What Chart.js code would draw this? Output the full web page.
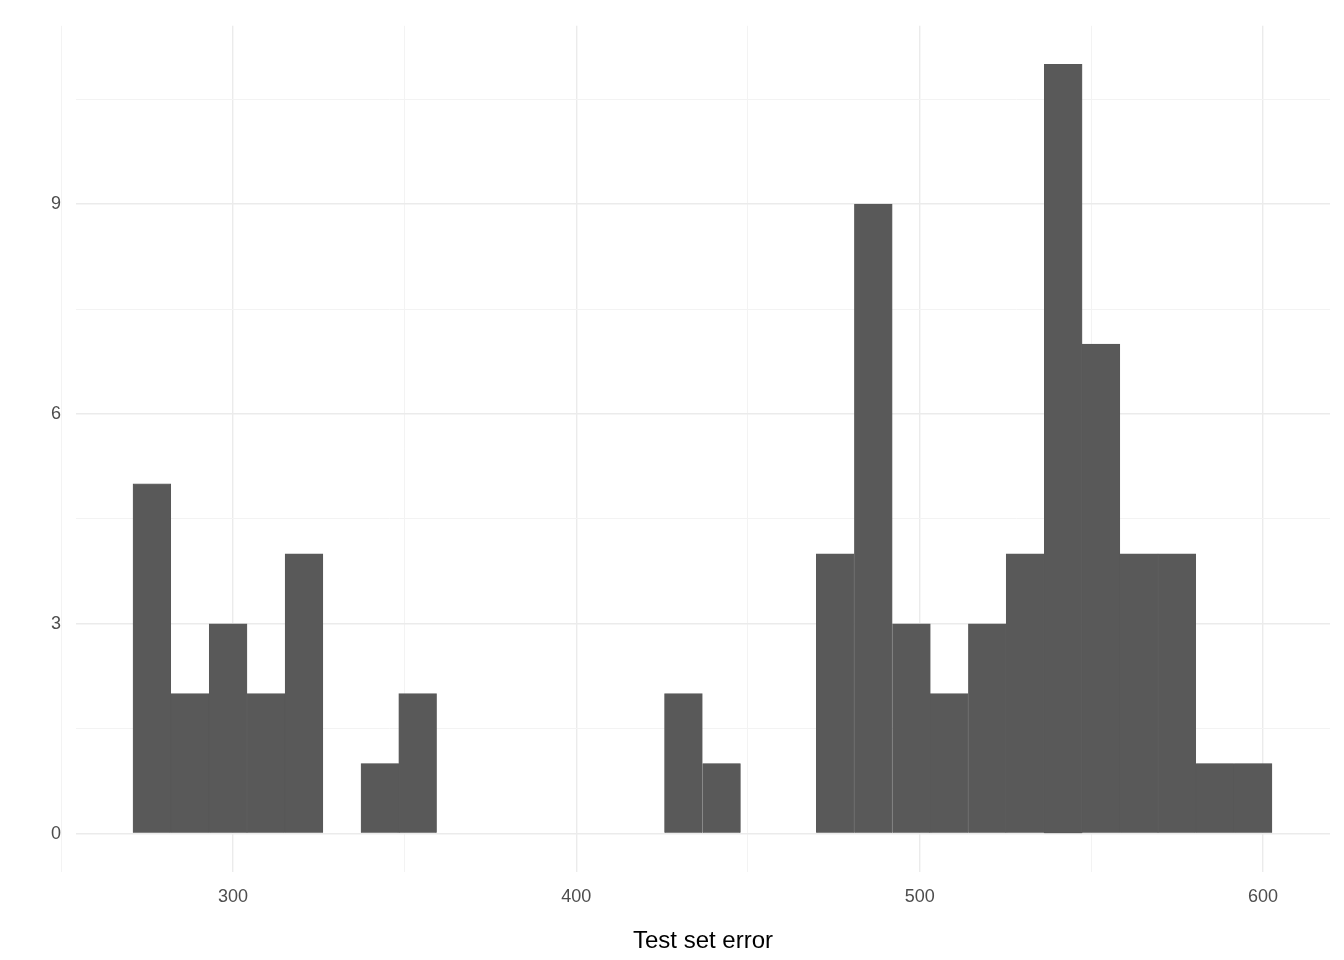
<!DOCTYPE html>
<html>
<head>
<meta charset="utf-8">
<script src="https://cdn.jsdelivr.net/npm/chart.js@4"></script>
<style>
  html, body { margin: 0; padding: 0; background: #fff; }
  #wrap { width: 1344px; height: 960px; }
</style>
</head>
<body>
<div id="wrap"><canvas id="hist"></canvas></div>
<script>
// histogram bins (centres) and counts, 30 bins
const binCenters = [276.4, 287.5, 298.6, 309.6, 320.7, 331.7, 342.8, 353.8, 364.9, 375.9,
                    387.0, 398.1, 409.1, 420.2, 431.2, 442.3, 453.3, 464.4, 475.4, 486.5,
                    497.6, 508.6, 519.7, 530.7, 541.8, 552.8, 563.9, 574.9, 586.0, 597.1];
const counts = [5, 2, 3, 2, 4, 0, 1, 2, 0, 0,
                0, 0, 0, 0, 2, 1, 0, 0, 4, 9,
                3, 2, 3, 4, 11, 7, 4, 4, 1, 1];
const xLabels = [300, 400, 500, 600];
const yLabels = [0, 3, 6, 9];

const ctx = document.getElementById("hist").getContext("2d");
new Chart(ctx, {
  type: 'bar',
  data: {
    datasets: [{
      data: binCenters.map((x, i) => ({ x: x, y: counts[i] === 0 ? null : counts[i] })),
      backgroundColor: "#595959",
      borderColor: "#595959",
      borderWidth: 0.6,
      barPercentage: 1,
      categoryPercentage: 1
    }]
  },
  options: {
    responsive: true,
    maintainAspectRatio: false,
    animation: false,
    layout: { padding: { top: 15, right: 14, left: 0, bottom: 0 } },
    plugins: { legend: { display: false }, tooltip: { enabled: false } },
    scales: {
      x: {
        type: 'linear',
        offset: false,
        min: 254.3, max: 619.5,
        afterFit: s => { s.height = 88; },
        border: { display: false },
        grid: {
          offset: false,
          drawTicks: false,
          color: c => (c.tick && xLabels.includes(c.tick.value)) ? "#EBEBEB" : "#F3F3F3",
          lineWidth: c => (c.tick && xLabels.includes(c.tick.value)) ? 1.4 : 1
        },
        afterBuildTicks: s => { s.ticks = [250, 300, 350, 400, 450, 500, 550, 600].map(v => ({ value: v })); },
        ticks: {
          padding: 14,
          color: "#4D4D4D",
          font: { family: "Arial, 'Liberation Sans'", size: 18 },
          callback: v => xLabels.includes(v) ? String(v) : ""
        },
        title: {
          display: true, text: "Test set error", color: "#000",
          font: { family: "Arial, 'Liberation Sans'", size: 24 },
          padding: { top: 2 }
        }
      },
      y: {
        min: -0.55, max: 11.55,
        afterFit: s => { s.width = 76; },
        border: { display: false },
        grid: {
          drawTicks: false,
          color: c => (c.tick && yLabels.includes(c.tick.value)) ? "#EBEBEB" : "#F3F3F3",
          lineWidth: c => (c.tick && yLabels.includes(c.tick.value)) ? 1.4 : 1
        },
        afterBuildTicks: s => { s.ticks = [0, 1.5, 3, 4.5, 6, 7.5, 9, 10.5].map(v => ({ value: v })); },
        ticks: {
          padding: 15,
          color: "#4D4D4D",
          font: { family: "Arial, 'Liberation Sans'", size: 18 },
          callback: v => yLabels.includes(v) ? String(v) : ""
        }
      }
    }
  }
});
</script>
</body>
</html>
